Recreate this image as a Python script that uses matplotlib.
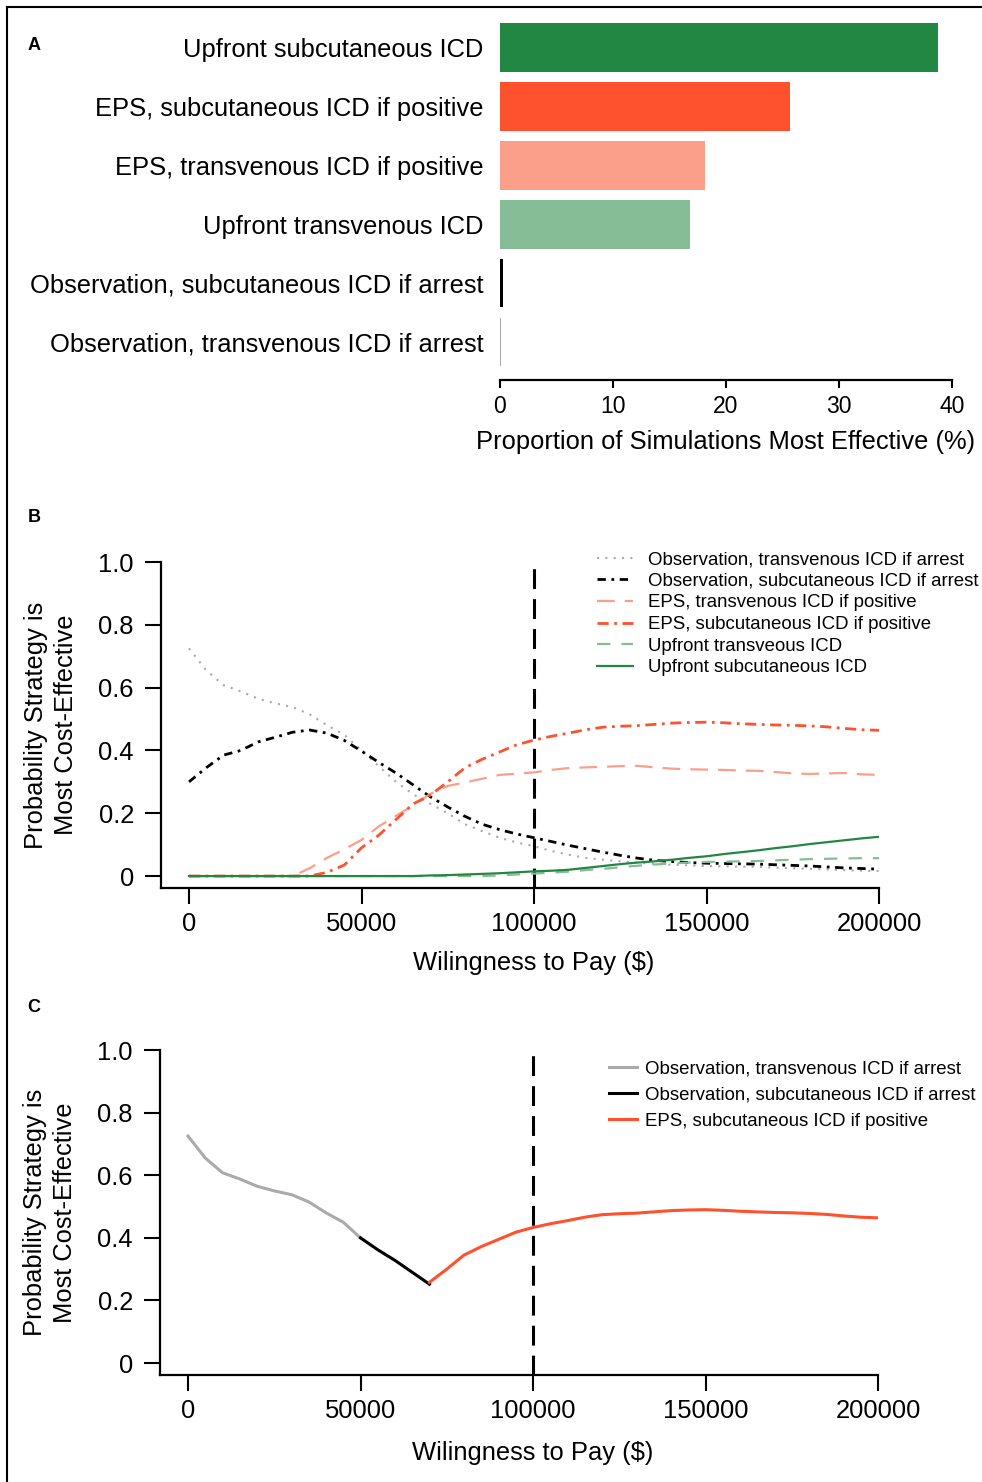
import numpy as np
import matplotlib
matplotlib.use("Agg")
import matplotlib.pyplot as plt
from matplotlib.lines import Line2D

plt.rcParams['font.family'] = ['Liberation Sans', 'DejaVu Sans']

# Panel A data
strategies = ['Upfront subcutaneous ICD',
              'EPS, subcutaneous ICD if positive',
              'EPS, transvenous ICD if positive',
              'Upfront transvenous ICD',
              'Observation, subcutaneous ICD if arrest',
              'Observation, transvenous ICD if arrest']
pct_effective = [38.8, 25.7, 18.1, 16.8, 0.25, 0.1]
bar_colors = ['#238744', '#FE522E', '#FC9F8A', '#86BD97', '#000000', '#AAAAAA']

# Panel B data (willingness to pay grid, $)
wtp = np.arange(0, 200001, 5000)
obs_trans = [0.725, 0.655, 0.608, 0.588, 0.565, 0.550, 0.538, 0.515, 0.480, 0.450,
             0.400, 0.350, 0.300, 0.260, 0.230, 0.200, 0.165, 0.143, 0.122, 0.107,
             0.095, 0.080, 0.068, 0.058, 0.052, 0.047, 0.043, 0.039, 0.036, 0.034,
             0.032, 0.031, 0.030, 0.029, 0.027, 0.025, 0.023, 0.021, 0.019, 0.017, 0.016]
obs_sub = [0.300, 0.345, 0.385, 0.400, 0.427, 0.442, 0.458, 0.465, 0.455, 0.432,
           0.398, 0.362, 0.328, 0.290, 0.252, 0.220, 0.190, 0.165, 0.148, 0.134,
           0.122, 0.110, 0.098, 0.087, 0.076, 0.066, 0.057, 0.050, 0.046, 0.043,
           0.041, 0.040, 0.039, 0.038, 0.036, 0.034, 0.032, 0.029, 0.026, 0.024, 0.022]
eps_trans = [0, 0, 0, 0, 0, 0, 0.0, 0.025, 0.058, 0.085,
             0.115, 0.158, 0.192, 0.225, 0.262, 0.287, 0.298, 0.310, 0.322, 0.326,
             0.330, 0.338, 0.344, 0.346, 0.348, 0.350, 0.351, 0.346, 0.342, 0.340,
             0.339, 0.338, 0.336, 0.335, 0.331, 0.327, 0.325, 0.327, 0.328, 0.324, 0.322]
eps_sub = [0, 0, 0, 0, 0, 0, 0, 0, 0.012, 0.035,
           0.090, 0.130, 0.180, 0.230, 0.258, 0.300, 0.345, 0.372, 0.395, 0.418,
           0.433, 0.445, 0.455, 0.466, 0.474, 0.477, 0.479, 0.483, 0.487, 0.489,
           0.490, 0.488, 0.485, 0.483, 0.481, 0.480, 0.478, 0.475, 0.470, 0.466, 0.464]
up_trans = [0, 0, 0, 0, 0, 0, 0, 0, 0, 0,
            0, 0, 0, 0, 0, 0, 0, 0, 0.002, 0.005,
            0.008, 0.011, 0.014, 0.019, 0.023, 0.028, 0.033, 0.037, 0.040, 0.043,
            0.045, 0.046, 0.047, 0.048, 0.050, 0.052, 0.054, 0.055, 0.056, 0.057, 0.057]
up_sub = [0, 0, 0, 0, 0, 0, 0, 0, 0, 0,
          0, 0, 0, 0, 0.002, 0.003, 0.005, 0.007, 0.009, 0.012,
          0.015, 0.017, 0.020, 0.026, 0.032, 0.038, 0.043, 0.047, 0.052, 0.058,
          0.063, 0.070, 0.076, 0.082, 0.089, 0.095, 0.102, 0.108, 0.114, 0.120, 0.125]

# Panel C: optimal strategy switches at these thresholds
switch_points = [50000, 70000]
threshold = 100000

W, H = 982, 1482
fig = plt.figure(figsize=(W / 100, H / 100), dpi=100)


def box(l, t, r, b):
    return [l / W, 1 - b / H, (r - l) / W, (b - t) / H]


fs = 18.4

# ---------------- A ----------------
axA = fig.add_axes(box(500, 18, 952, 380))
ypos = np.arange(len(strategies))
axA.barh(ypos, pct_effective, height=0.82, color=bar_colors)
axA.set_ylim(5.64, -0.5)
axA.set_xlim(0, 40)
axA.set_yticks(ypos)
axA.set_yticklabels(strategies, fontsize=fs)
axA.tick_params(axis='y', length=0, pad=12)
axA.set_xticks([0, 10, 20, 30, 40])
axA.tick_params(axis='x', labelsize=16.5, length=6, width=1.5, pad=5)
for s in ['left', 'top', 'right']:
    axA.spines[s].set_visible(False)
axA.spines['bottom'].set_linewidth(1.6)
axA.set_xlabel('Proportion of Simulations Most Effective (%)', fontsize=fs)
axA.xaxis.label.set_va('center')
axA.xaxis.set_label_coords(0.5, (380 - 442) / 362)


def style_axes(ax, xlab_y):
    ax.set_xlim(-8116, 200000)
    ax.set_ylim(-0.038, 1.0)
    ax.set_yticks([0, 0.2, 0.4, 0.6, 0.8, 1.0])
    ax.set_yticklabels(['0', '0.2', '0.4', '0.6', '0.8', '1.0'])
    ax.set_xticks([0, 50000, 100000, 150000, 200000])
    ax.set_xticklabels(['0', '50000', '100000', '150000', '200000'])
    ax.tick_params(labelsize=fs, length=11.5, width=1.5)
    ax.tick_params(axis='x', pad=6)
    ax.tick_params(axis='y', pad=8)
    for s in ['top', 'right']:
        ax.spines[s].set_visible(False)
    for s in ['left', 'bottom']:
        ax.spines[s].set_linewidth(1.6)
    ax.set_xlabel('Wilingness to Pay ($)', fontsize=fs)
    ax.xaxis.label.set_va('center')
    ax.xaxis.set_label_coords(0.5195, xlab_y)
    ax.set_ylabel('Probability Strategy is\nMost Cost-Effective', fontsize=fs, linespacing=1.3)
    ax.yaxis.label.set_va('center')
    ax.yaxis.set_label_coords((51 - 161) / 718, 0.5)
    ax.axvline(threshold, color='black', lw=2.2, linestyle=(0, (6.5, 3.3)))


# ---------------- B ----------------
axB = fig.add_axes(box(161, 562, 879, 888))
style_axes(axB, -0.23)
axB.plot(wtp, obs_trans, color='#AAAAAA', lw=1.5, linestyle=(0, (1, 3)),
         label='Observation, transvenous ICD if arrest')
axB.plot(wtp, obs_sub, color='black', lw=2.0, linestyle=(0, (3, 2, 1, 2)),
         label='Observation, subcutaneous ICD if arrest')
axB.plot(wtp, eps_trans, color='#FC9F8A', lw=1.6, linestyle=(0, (8, 4.5)),
         label='EPS, transvenous ICD if positive')
axB.plot(wtp, eps_sub, color='#FE522E', lw=2.0, linestyle=(0, (4, 2, 1, 2)),
         label='EPS, subcutaneous ICD if positive')
axB.plot(wtp, up_trans, color='#86BD97', lw=1.6, linestyle=(0, (6, 5)),
         label='Upfront transveous ICD')
axB.plot(wtp, up_sub, color='#238744', lw=1.6, linestyle='-',
         label='Upfront subcutaneous ICD')
axB.legend(loc='upper left', bbox_to_anchor=(597 / W, 1 - 551 / H),
           bbox_transform=fig.transFigure, frameon=False, fontsize=13.4,
           handlelength=1.95, handletextpad=0.8, labelspacing=0.25,
           borderpad=0, borderaxespad=0)

# ---------------- C ----------------
axC = fig.add_axes(box(160, 1050, 878, 1375))
style_axes(axC, -0.24)
m1 = wtp <= switch_points[0]
m2 = (wtp >= switch_points[0]) & (wtp <= switch_points[1])
m3 = wtp >= switch_points[1]
axC.plot(wtp[m1], np.array(obs_trans)[m1], color='#AAAAAA', lw=2.2,
         label='Observation, transvenous ICD if arrest')
axC.plot(np.concatenate([[switch_points[0]], wtp[m2][1:]]),
         np.concatenate([[obs_trans[10]], np.array(obs_sub)[m2][1:]]),
         color='black', lw=2.2, label='Observation, subcutaneous ICD if arrest')
axC.plot(wtp[m3], np.array(eps_sub)[m3], color='#FE522E', lw=2.2,
         label='EPS, subcutaneous ICD if positive')
axC.legend(loc='upper left', bbox_to_anchor=(609 / W, 1 - 1060 / H),
           bbox_transform=fig.transFigure, frameon=False, fontsize=13.4,
           handlelength=1.5, handletextpad=0.45, labelspacing=0.5,
           borderpad=0, borderaxespad=0)

# panel letters
for letter, y in [('A', 45), ('B', 517), ('C', 1007)]:
    fig.text(34 / W, 1 - y / H, letter, fontsize=13, fontweight='bold',
             ha='center', va='center')

# frame around the figure
fig.add_artist(Line2D([7 / W, 7 / W], [0, 1 - 7 / H], color='black', lw=1.5,
                      transform=fig.transFigure))
fig.add_artist(Line2D([7 / W, 1], [1 - 7 / H, 1 - 7 / H], color='black', lw=1.5,
                      transform=fig.transFigure))

fig.savefig('out.png', dpi=100)
